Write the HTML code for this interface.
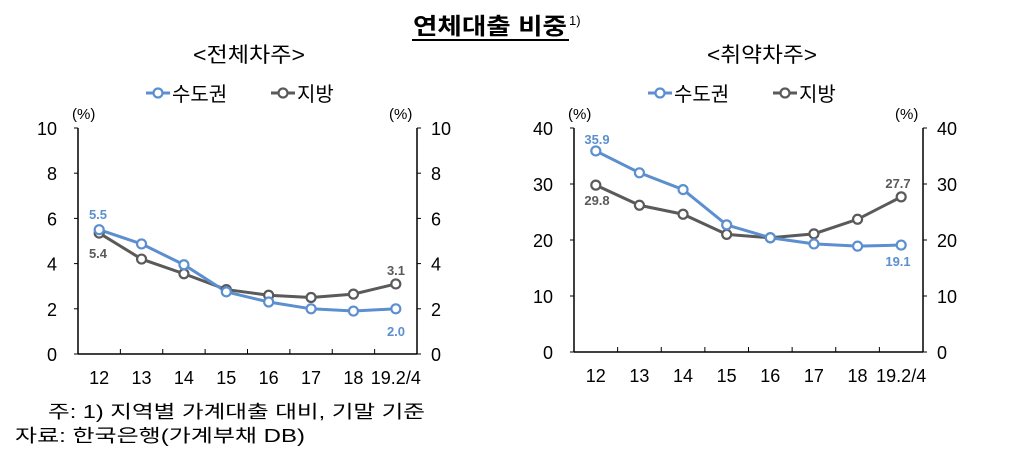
<!DOCTYPE html>
<html><head><meta charset="utf-8"><style>
html,body{margin:0;padding:0;background:#fff;}
svg{display:block;font-family:"Liberation Sans","Noto Sans CJK KR",sans-serif;}
</style></head><body>
<svg id="s" width="1024" height="461" viewBox="0 0 1024 461" xmlns="http://www.w3.org/2000/svg">
<text x="413" y="34" font-size="23" font-weight="bold" fill="#000" textLength="154" lengthAdjust="spacingAndGlyphs">연체대출 비중</text>
<text x="569" y="25" font-size="13" fill="#000">1)</text>
<line x1="412" y1="40" x2="569" y2="40" stroke="#000" stroke-width="2"/>
<text x="193" y="62" font-size="21" fill="#000" textLength="112" lengthAdjust="spacingAndGlyphs">&lt;전체차주&gt;</text>
<text x="707" y="62" font-size="21" fill="#000" textLength="110" lengthAdjust="spacingAndGlyphs">&lt;취약차주&gt;</text>
<text x="48" y="418" font-size="18" fill="#000" textLength="377" lengthAdjust="spacingAndGlyphs">주: 1) 지역별 가계대출 대비, 기말 기준</text>
<text x="15" y="442" font-size="18" fill="#000" textLength="290" lengthAdjust="spacingAndGlyphs">자료: 한국은행(가계부채 DB)</text>
<g id="g"></g>
</svg>
<script>
var NS="http://www.w3.org/2000/svg",g=document.getElementById('g');
function el(t,a,txt){var e=document.createElementNS(NS,t);for(var k in a)e.setAttribute(k,a[k]);if(txt!=null)e.textContent=txt;g.appendChild(e);return e;}
var BL="#5b8fd0",GR="#5a5a5a";
function chart(o){
 var x0=o.x0,x1=o.x1,y0=o.y0,y1=o.y1,max=o.max,step=o.step;
 var Y=function(v){return y0-(y0-y1)*v/max;};
 var cw=(x1-x0)/8,X=function(i){return x0+cw*(i+0.5);};
 el('line',{x1:x0,y1:y1,x2:x0,y2:y0,stroke:"#000","stroke-width":1.5});
 el('line',{x1:x1,y1:y1,x2:x1,y2:y0,stroke:"#000","stroke-width":1.5});
 el('line',{x1:x0,y1:y0,x2:x1,y2:y0,stroke:"#000","stroke-width":1.5});
 for(var v=0;v<=max;v+=step){var y=Y(v);
  el('line',{x1:x0-4,y1:y,x2:x0,y2:y,stroke:"#000","stroke-width":1});
  el('line',{x1:x1,y1:y,x2:x1+4,y2:y,stroke:"#000","stroke-width":1});
  el('text',{x:x0-21,y:y+7,"text-anchor":"end","font-size":18,fill:"#000"},v);
  el('text',{x:x1+14,y:y+7,"font-size":18,fill:"#000"},v);}
 for(var i=1;i<8;i++)el('line',{x1:x0+cw*i,y1:y0,x2:x0+cw*i,y2:y0-5,stroke:"#000","stroke-width":1});
 var labs=["12","13","14","15","16","17","18","19.2/4"];
 for(var i=0;i<8;i++)el('text',{x:X(i),y:y0+30,"text-anchor":"middle","font-size":18,fill:"#000"},labs[i]);
 el('text',{x:x0-6,y:y1-9,"font-size":15,fill:"#000"},"(%)");
 el('text',{x:x1-28,y:y1-9,"font-size":15,fill:"#000"},"(%)");
 [[o.g,GR],[o.b,BL]].forEach(function(s){
  var p=s[0].map(function(v,i){return X(i)+","+Y(v);}).join(" ");
  el('polyline',{points:p,fill:"none",stroke:s[1],"stroke-width":3});
 });
 [[o.g,GR],[o.b,BL]].forEach(function(s){
  s[0].forEach(function(v,i){el('circle',{cx:X(i),cy:Y(v),r:4.5,fill:"#fff",stroke:s[1],"stroke-width":2.2});});
 });
 o.lab.forEach(function(l){el('text',{x:l[0],y:l[1],"text-anchor":"middle","font-size":13,"font-weight":"bold",fill:l[3]},l[2]);});
 var lx=o.lx;
 el('line',{x1:lx,y1:93,x2:lx+24,y2:93,stroke:BL,"stroke-width":3});
 el('circle',{cx:lx+12,cy:93,r:4.5,fill:"#fff",stroke:BL,"stroke-width":2.2});
 el('text',{x:lx+26,y:101,"font-size":20,fill:"#000"},"수도권");
 el('line',{x1:lx+125,y1:93,x2:lx+149,y2:93,stroke:GR,"stroke-width":3});
 el('circle',{cx:lx+137,cy:93,r:4.5,fill:"#fff",stroke:GR,"stroke-width":2.2});
 el('text',{x:lx+151,y:101,"font-size":20,fill:"#000"},"지방");
}
chart({x0:78,x1:417,y0:354,y1:128,max:10,step:2,lx:146,
 b:[5.5,4.87,3.95,2.75,2.3,2.0,1.9,2.0],g:[5.35,4.2,3.55,2.85,2.6,2.5,2.65,3.1],
 lab:[[98,219,"5.5",BL],[98,258,"5.4",GR],[396,275,"3.1",GR],[396,336,"2.0",BL]]});
chart({x0:574,x1:923,y0:352,y1:128,max:40,step:10,lx:648,
 b:[35.9,32,29,22.7,20.4,19.3,18.9,19.1],g:[29.8,26.2,24.6,21,20.4,21.1,23.7,27.7],
 lab:[[597,144,"35.9",BL],[597,205,"29.8",GR],[898,188,"27.7",GR],[898,266,"19.1",BL]]});
</script>
</body></html>
